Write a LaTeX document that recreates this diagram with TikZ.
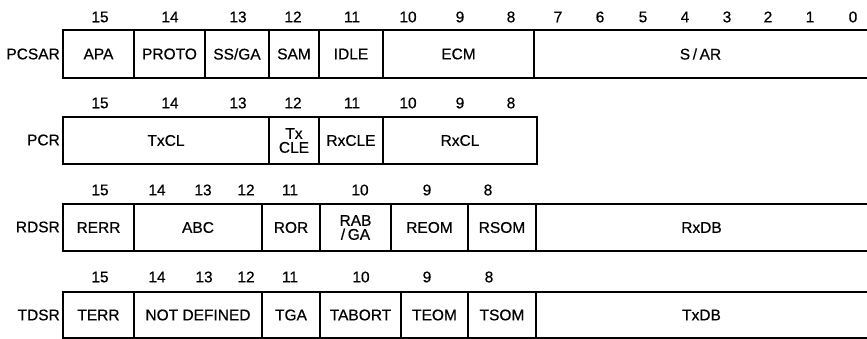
\documentclass[tikz,border=0pt]{standalone}
\usepackage{fontspec}
\setmainfont[FakeBold=0.5]{Liberation Sans}
\begin{document}
\begin{tikzpicture}[x=1pt,y=-1pt,
  every node/.style={font=\fontsize{15.5}{14}\selectfont, inner sep=0pt, align=center},
  divider/.style={line width=1.2pt},
  outer/.style={line width=2.2pt},
  regname/.style={anchor=east}]
\useasboundingbox (0,0) rectangle (867,339);

% ---------- Row 1: PCSAR ----------
\node[regname] (pcsar) at (60,54) {PCSAR};
\foreach \n/\x in {15/100,14/170,13/238,12/293,11/352,10/408,9/460,8/511,7/558,6/600,5/643,4/685,3/727,2/768,1/810,0/853}
  \node (ra\n) at (\x,17) {\n};
\foreach \a/\b/\t/\n in {63/134/APA/apa,134/205/PROTO/proto,205/269/{SS/GA}/ssga,269/319/SAM/sam,319/383/IDLE/idle,383/534/ECM/ecm,534/867/{S\,/\,AR}/sar}
  \node (\n) at ({(\a+\b)/2},54) {\t};
\foreach \x in {134,205,269,319,383,534}
  \draw[divider] (\x,30) -- (\x,78);
\draw[outer] (867,30) -- (63,30) -- (63,78) -- (867,78);

% ---------- Row 2: PCR ----------
\node[regname] (pcr) at (60,140) {PCR};
\foreach \n/\x in {15/100,14/170,13/238,12/293,11/352,10/408,9/460,8/511}
  \node (rb\n) at (\x,103) {\n};
\foreach \a/\b/\t/\n in {63/269/TxCL/txcl,269/319/{Tx\\CLE}/txcle,319/383/RxCLE/rxcle,383/537/RxCL/rxcl}
  \node (\n) at ({(\a+\b)/2},140.5) {\t};
\foreach \x in {269,319,383}
  \draw[divider] (\x,117) -- (\x,164);
\draw[outer] (63,117) rectangle (537,164);

% ---------- Row 3: RDSR ----------
\node[regname] (rdsr) at (60,227) {RDSR};
\foreach \n/\x in {15/100,14/157,13/203,12/246,11/290,10/360,9/427,8/488}
  \node (rc\n) at (\x,190) {\n};
\foreach \a/\b/\t/\n in {63/134/RERR/rerr,134/262/ABC/abc,262/320/ROR/ror,320/391/{RAB\\/\,GA}/rabga,391/468/REOM/reom,468/536/RSOM/rsom,536/867/RxDB/rxdb}
  \node (\n) at ({(\a+\b)/2},227.5) {\t};
\foreach \x in {134,262,320,391,468,536}
  \draw[divider] (\x,204) -- (\x,251);
\draw[outer] (867,204) -- (63,204) -- (63,251) -- (867,251);

% ---------- Row 4: TDSR ----------
\node[regname] (tdsr) at (60,315) {TDSR};
\foreach \n/\x in {15/100,14/157,13/204,12/246,11/290,10/361,9/427,8/489}
  \node (rd\n) at (\x,277) {\n};
\foreach \a/\b/\t/\n in {63/134/TERR/terr,134/262/{NOT DEFINED}/notdef,262/320/TGA/tga,320/401/TABORT/tabort,401/468/TEOM/teom,468/536/TSOM/tsom,536/867/TxDB/txdb}
  \node (\n) at ({(\a+\b)/2},315) {\t};
\foreach \x in {134,262,320,401,468,536}
  \draw[divider] (\x,292) -- (\x,338);
\draw[outer] (867,292) -- (63,292) -- (63,338) -- (867,338);
\end{tikzpicture}
\end{document}
